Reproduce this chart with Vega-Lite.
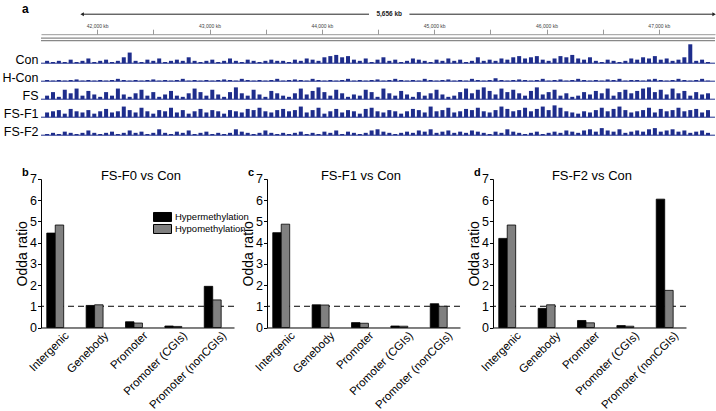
{
  "$schema": "https://vega.github.io/schema/vega-lite/v6.json",
  "padding": {"left": 1, "top": 3.2, "right": 0, "bottom": 0},
  "background": "white",
  "config": {
    "font": "Liberation Sans",
    "view": {"stroke": null},
    "axis": {"labelColor": "#000", "titleColor": "#000", "domainColor": "#000", "tickColor": "#000", "grid": false, "labelFont": "Liberation Sans", "titleFont": "Liberation Sans", "titleFontWeight": "normal"},
    "title": {"font": "Liberation Sans", "color": "#000"}
  },
  "datasets": {
    "tracks": [
      {"track": "Con",
       "pos": [41875,41925,41975,42025,42075,42125,42175,42225,42275,42325,42375,42425,42475,42525,42575,42625,42675,42725,42775,42825,42875,42925,42975,43025,43075,43125,43175,43225,43275,43325,43375,43425,43475,43525,43575,43625,43675,43725,43775,43825,43875,43925,43975,44025,44075,44125,44175,44225,44275,44325,44375,44425,44475,44525,44575,44625,44675,44725,44775,44825,44875,44925,44975,45025,45075,45125,45175,45225,45275,45325,45375,45425,45475,45525,45575,45625,45675,45725,45775,45825,45875,45925,45975,46025,46075,46125,46175,46225,46275,46325,46375,46425,46475,46525,46575,46625,46675,46725,46775,46825,46875,46925,46975,47025,47075,47125,47175,47225,47275,47325,47375,47425,47475],
       "v": [2,1,2,1,3,1,2,4,1,2, 3,1,2,5,9,2,1,3,2,4, 1,2,3,2,5,2,1,2,3,1, 2,4,2,1,3,2,1,2,3,2, 2,1,3,2,4,3,2,5,6,7, 5,6,3,2,4,1,3,5,2,3, 1,2,4,3,2,1,3,2,4,2, 3,1,2,5,2,3,2,4,3,5, 6,4,5,6,3,2,4,6,5,7, 4,3,5,2,1,3,2,1,2,4, 3,5,4,6,3,4,2,3,5,16, 2,3,1]},
      {"track": "H-Con",
       "pos": [41875,41925,41975,42025,42075,42125,42175,42225,42275,42325,42375,42425,42475,42525,42575,42625,42675,42725,42775,42825,42875,42925,42975,43025,43075,43125,43175,43225,43275,43325,43375,43425,43475,43525,43575,43625,43675,43725,43775,43825,43875,43925,43975,44025,44075,44125,44175,44225,44275,44325,44375,44425,44475,44525,44575,44625,44675,44725,44775,44825,44875,44925,44975,45025,45075,45125,45175,45225,45275,45325,45375,45425,45475,45525,45575,45625,45675,45725,45775,45825,45875,45925,45975,46025,46075,46125,46175,46225,46275,46325,46375,46425,46475,46525,46575,46625,46675,46725,46775,46825,46875,46925,46975,47025,47075,47125,47175,47225,47275,47325,47375,47425,47475],
       "v": [1,0.5,1,0.5,1,1.5,0.5,1,0.5,1, 0.5,1,2,1,0.5,1,0.5,1,1.5,0.5, 1,0.5,1,2,0.5,1,0.5,1,0.5,1, 1.5,1,0.5,2,1,0.5,1,0.5,1,2, 0.5,1,1.5,1,0.5,2,1,0.5,1,0.5, 1,2,0.5,1,0.5,1,1.5,0.5,1,2, 1,0.5,1,0.5,2,1,0.5,1,1.5,0.5, 1,0.5,2,1,0.5,1,2.5,1,0.5,1, 1.5,1,0.5,1,2,0.5,1,1.5,0.5,1, 2,1,0.5,1,0.5,1.5,1,2,0.5,1, 1,0.5,1.5,2,1,0.5,1,2,1,0.5, 1,2,0.5]},
      {"track": "FS",
       "pos": [41875,41925,41975,42025,42075,42125,42175,42225,42275,42325,42375,42425,42475,42525,42575,42625,42675,42725,42775,42825,42875,42925,42975,43025,43075,43125,43175,43225,43275,43325,43375,43425,43475,43525,43575,43625,43675,43725,43775,43825,43875,43925,43975,44025,44075,44125,44175,44225,44275,44325,44375,44425,44475,44525,44575,44625,44675,44725,44775,44825,44875,44925,44975,45025,45075,45125,45175,45225,45275,45325,45375,45425,45475,45525,45575,45625,45675,45725,45775,45825,45875,45925,45975,46025,46075,46125,46175,46225,46275,46325,46375,46425,46475,46525,46575,46625,46675,46725,46775,46825,46875,46925,46975,47025,47075,47125,47175,47225,47275,47325,47375,47425,47475],
       "v": [3,6,2,8,5,9,3,7,4,2, 6,3,9,4,2,5,8,3,6,2, 4,7,3,2,5,9,6,3,8,4, 2,6,10,5,3,8,4,2,7,5, 3,2,5,9,4,7,10,6,3,8, 5,2,4,3,8,6,2,9,5,3, 7,4,2,6,3,5,8,4,2,3, 6,9,5,8,10,7,4,9,6,8, 5,3,7,10,4,6,8,3,5,2, 3,6,4,7,5,9,3,6,8,5, 7,9,10,6,8,4,9,5,7,3, 6,4,5]},
      {"track": "FS-F1",
       "pos": [41875,41925,41975,42025,42075,42125,42175,42225,42275,42325,42375,42425,42475,42525,42575,42625,42675,42725,42775,42825,42875,42925,42975,43025,43075,43125,43175,43225,43275,43325,43375,43425,43475,43525,43575,43625,43675,43725,43775,43825,43875,43925,43975,44025,44075,44125,44175,44225,44275,44325,44375,44425,44475,44525,44575,44625,44675,44725,44775,44825,44875,44925,44975,45025,45075,45125,45175,45225,45275,45325,45375,45425,45475,45525,45575,45625,45675,45725,45775,45825,45875,45925,45975,46025,46075,46125,46175,46225,46275,46325,46375,46425,46475,46525,46575,46625,46675,46725,46775,46825,46875,46925,46975,47025,47075,47125,47175,47225,47275,47325,47375,47425,47475],
       "v": [4,5,6,3,7,5,4,6,3,5, 7,4,5,9,6,4,8,5,3,6, 5,8,4,6,3,5,7,4,6,5, 3,6,5,4,7,6,8,5,4,6, 7,5,6,9,4,6,8,3,5,7, 4,6,5,3,7,8,5,4,6,5, 3,5,7,6,4,9,5,6,8,4, 5,7,6,8,5,4,6,9,7,5, 6,8,5,7,9,6,10,8,5,4, 3,5,4,6,8,5,7,9,6,4, 5,6,8,4,7,5,6,8,5,6, 7,4,6]},
      {"track": "FS-F2",
       "pos": [41875,41925,41975,42025,42075,42125,42175,42225,42275,42325,42375,42425,42475,42525,42575,42625,42675,42725,42775,42825,42875,42925,42975,43025,43075,43125,43175,43225,43275,43325,43375,43425,43475,43525,43575,43625,43675,43725,43775,43825,43875,43925,43975,44025,44075,44125,44175,44225,44275,44325,44375,44425,44475,44525,44575,44625,44675,44725,44775,44825,44875,44925,44975,45025,45075,45125,45175,45225,45275,45325,45375,45425,45475,45525,45575,45625,45675,45725,45775,45825,45875,45925,45975,46025,46075,46125,46175,46225,46275,46325,46375,46425,46475,46525,46575,46625,46675,46725,46775,46825,46875,46925,46975,47025,47075,47125,47175,47225,47275,47325,47375,47425,47475],
       "v": [1,2,1,3,2,1,2,4,2,1, 2,3,1,2,4,2,3,1,2,5, 2,1,3,2,4,1,2,3,1,2, 1,2,5,3,2,1,2,4,2,1, 2,1,2,3,1,2,1,3,2,4, 1,3,2,1,2,4,5,3,2,1, 2,3,2,4,3,5,2,3,4,2, 3,2,4,3,2,1,3,2,5,3, 2,1,2,3,1,2,3,2,4,3, 2,4,5,3,6,4,3,5,2,3, 4,3,5,6,3,4,5,3,4,2, 3,4,2]}
    ],
    "bars": [
      {"panel": "b", "region": "Intergenic", "type": "Hypermethylation", "value": 4.45},
      {"panel": "b", "region": "Intergenic", "type": "Hypomethylation", "value": 4.83},
      {"panel": "b", "region": "Genebody", "type": "Hypermethylation", "value": 1.04},
      {"panel": "b", "region": "Genebody", "type": "Hypomethylation", "value": 1.07},
      {"panel": "b", "region": "Promoter", "type": "Hypermethylation", "value": 0.27},
      {"panel": "b", "region": "Promoter", "type": "Hypomethylation", "value": 0.21},
      {"panel": "b", "region": "Promoter (CGIs)", "type": "Hypermethylation", "value": 0.07},
      {"panel": "b", "region": "Promoter (CGIs)", "type": "Hypomethylation", "value": 0.05},
      {"panel": "b", "region": "Promoter (nonCGIs)", "type": "Hypermethylation", "value": 1.94},
      {"panel": "b", "region": "Promoter (nonCGIs)", "type": "Hypomethylation", "value": 1.3},
      {"panel": "c", "region": "Intergenic", "type": "Hypermethylation", "value": 4.47},
      {"panel": "c", "region": "Intergenic", "type": "Hypomethylation", "value": 4.87},
      {"panel": "c", "region": "Genebody", "type": "Hypermethylation", "value": 1.07},
      {"panel": "c", "region": "Genebody", "type": "Hypomethylation", "value": 1.06},
      {"panel": "c", "region": "Promoter", "type": "Hypermethylation", "value": 0.23},
      {"panel": "c", "region": "Promoter", "type": "Hypomethylation", "value": 0.2},
      {"panel": "c", "region": "Promoter (CGIs)", "type": "Hypermethylation", "value": 0.07},
      {"panel": "c", "region": "Promoter (CGIs)", "type": "Hypomethylation", "value": 0.06},
      {"panel": "c", "region": "Promoter (nonCGIs)", "type": "Hypermethylation", "value": 1.12},
      {"panel": "c", "region": "Promoter (nonCGIs)", "type": "Hypomethylation", "value": 1.0},
      {"panel": "d", "region": "Intergenic", "type": "Hypermethylation", "value": 4.2},
      {"panel": "d", "region": "Intergenic", "type": "Hypomethylation", "value": 4.83},
      {"panel": "d", "region": "Genebody", "type": "Hypermethylation", "value": 0.9},
      {"panel": "d", "region": "Genebody", "type": "Hypomethylation", "value": 1.07},
      {"panel": "d", "region": "Promoter", "type": "Hypermethylation", "value": 0.33},
      {"panel": "d", "region": "Promoter", "type": "Hypomethylation", "value": 0.22},
      {"panel": "d", "region": "Promoter (CGIs)", "type": "Hypermethylation", "value": 0.09},
      {"panel": "d", "region": "Promoter (CGIs)", "type": "Hypomethylation", "value": 0.06},
      {"panel": "d", "region": "Promoter (nonCGIs)", "type": "Hypermethylation", "value": 6.05},
      {"panel": "d", "region": "Promoter (nonCGIs)", "type": "Hypomethylation", "value": 1.75}
    ]
  },
  "spacing": 28.8,
  "vconcat": [
    {
      "bounds": "flush",
      "spacing": 5,
      "vconcat": [
        {
          "width": 674,
          "height": 35,
          "title": {"text": "a", "anchor": "start", "frame": "group", "dx": -19, "fontSize": 12, "fontWeight": "bold", "offset": -6},
          "data": {"values": [{"span": "5,656 kb"}]},
          "layer": [
            {"mark": {"type": "rule", "color": "#222", "strokeWidth": 1},
             "encoding": {
               "x": {"datum": 41866, "type": "quantitative", "scale": {"domain": [41866, 47492]},
                     "axis": {"orient": "top", "offset": -24, "values": [42000,42500,43000,43500,44000,44500,45000,45500,46000,46500,47000],
                              "labelExpr": "datum.value % 1000 == 0 ? format(datum.value, ',') + ' kb' : ''",
                              "labelFontSize": 5, "labelColor": "#444", "tickColor": "#999", "tickSize": 5, "domainColor": "#999", "domainWidth": 1,
                              "labelPadding": 1, "title": null, "labelFlush": false, "labelOverlap": false}},
               "x2": {"datum": 44420},
               "y": {"datum": 4, "type": "quantitative", "scale": {"domain": [0, 35], "reverse": true}, "axis": null}}},
            {"mark": {"type": "rule", "color": "#222", "strokeWidth": 1},
             "encoding": {"x": {"datum": 44780, "type": "quantitative"}, "x2": {"datum": 47492}, "y": {"datum": 4, "type": "quantitative", "axis": null}}},
            {"mark": {"type": "point", "shape": "triangle-left", "filled": true, "color": "#222", "size": 16, "opacity": 1},
             "encoding": {"x": {"datum": 41866, "type": "quantitative"}, "y": {"datum": 4, "type": "quantitative", "axis": null}}},
            {"mark": {"type": "point", "shape": "triangle-right", "filled": true, "color": "#222", "size": 16, "opacity": 1},
             "encoding": {"x": {"datum": 47492, "type": "quantitative"}, "y": {"datum": 4, "type": "quantitative", "axis": null}}},
            {"mark": {"type": "text", "fontSize": 6.5, "fontWeight": "bold", "color": "#222", "baseline": "middle"},
             "encoding": {"x": {"datum": 44600, "type": "quantitative"}, "y": {"datum": 4, "type": "quantitative", "axis": null}, "text": {"field": "span"}}},
            {"mark": {"type": "rule", "color": "#888", "strokeWidth": 1.3},
             "encoding": {"y": {"datum": 28, "type": "quantitative", "axis": null}}},
            {"mark": {"type": "rule", "color": "#888", "strokeWidth": 1.3},
             "encoding": {"y": {"datum": 30.5, "type": "quantitative", "axis": null}}}
          ]
        },
        {"width": 674, "height": 13,
         "layer": [
           {"data": {"values": [{}]}, "mark": {"type": "rule", "color": "#1e2d8c", "strokeWidth": 1}, "encoding": {"y": {"datum": 0, "type": "quantitative"}}},
           {"data": {"name": "tracks"}, "transform": [{"filter": "datum.track == 'Con'"}, {"flatten": ["pos", "v"]}],
            "mark": {"type": "bar", "color": "#1e2d8c", "width": 4},
            "encoding": {"x": {"field": "pos", "type": "quantitative", "scale": {"domain": [41866, 47492]}, "axis": null},
                         "y": {"field": "v", "type": "quantitative", "scale": {"domain": [0, 11]},
                               "axis": {"title": "Con", "titleAngle": 0, "titleAlign": "right", "titleBaseline": "alphabetic", "titleX": -3, "titleY": 13, "titleFontSize": 12.5, "labels": false, "ticks": false, "domain": false}}}}
         ]},
        {"width": 674, "height": 13,
         "layer": [
           {"data": {"values": [{}]}, "mark": {"type": "rule", "color": "#1e2d8c", "strokeWidth": 1}, "encoding": {"y": {"datum": 0, "type": "quantitative"}}},
           {"data": {"name": "tracks"}, "transform": [{"filter": "datum.track == 'H-Con'"}, {"flatten": ["pos", "v"]}],
            "mark": {"type": "bar", "color": "#1e2d8c", "width": 4},
            "encoding": {"x": {"field": "pos", "type": "quantitative", "scale": {"domain": [41866, 47492]}, "axis": null},
                         "y": {"field": "v", "type": "quantitative", "scale": {"domain": [0, 11]},
                               "axis": {"title": "H-Con", "titleAngle": 0, "titleAlign": "right", "titleBaseline": "alphabetic", "titleX": -3, "titleY": 13, "titleFontSize": 12.5, "labels": false, "ticks": false, "domain": false}}}}
         ]},
        {"width": 674, "height": 13,
         "layer": [
           {"data": {"values": [{}]}, "mark": {"type": "rule", "color": "#1e2d8c", "strokeWidth": 1}, "encoding": {"y": {"datum": 0, "type": "quantitative"}}},
           {"data": {"name": "tracks"}, "transform": [{"filter": "datum.track == 'FS'"}, {"flatten": ["pos", "v"]}],
            "mark": {"type": "bar", "color": "#1e2d8c", "width": 4},
            "encoding": {"x": {"field": "pos", "type": "quantitative", "scale": {"domain": [41866, 47492]}, "axis": null},
                         "y": {"field": "v", "type": "quantitative", "scale": {"domain": [0, 11]},
                               "axis": {"title": "FS", "titleAngle": 0, "titleAlign": "right", "titleBaseline": "alphabetic", "titleX": -3, "titleY": 13, "titleFontSize": 12.5, "labels": false, "ticks": false, "domain": false}}}}
         ]},
        {"width": 674, "height": 13,
         "layer": [
           {"data": {"values": [{}]}, "mark": {"type": "rule", "color": "#1e2d8c", "strokeWidth": 1}, "encoding": {"y": {"datum": 0, "type": "quantitative"}}},
           {"data": {"name": "tracks"}, "transform": [{"filter": "datum.track == 'FS-F1'"}, {"flatten": ["pos", "v"]}],
            "mark": {"type": "bar", "color": "#1e2d8c", "width": 4},
            "encoding": {"x": {"field": "pos", "type": "quantitative", "scale": {"domain": [41866, 47492]}, "axis": null},
                         "y": {"field": "v", "type": "quantitative", "scale": {"domain": [0, 11]},
                               "axis": {"title": "FS-F1", "titleAngle": 0, "titleAlign": "right", "titleBaseline": "alphabetic", "titleX": -3, "titleY": 13, "titleFontSize": 12.5, "labels": false, "ticks": false, "domain": false}}}}
         ]},
        {"width": 674, "height": 13,
         "layer": [
           {"data": {"values": [{}]}, "mark": {"type": "rule", "color": "#1e2d8c", "strokeWidth": 1}, "encoding": {"y": {"datum": 0, "type": "quantitative"}}},
           {"data": {"name": "tracks"}, "transform": [{"filter": "datum.track == 'FS-F2'"}, {"flatten": ["pos", "v"]}],
            "mark": {"type": "bar", "color": "#1e2d8c", "width": 4},
            "encoding": {"x": {"field": "pos", "type": "quantitative", "scale": {"domain": [41866, 47492]}, "axis": null},
                         "y": {"field": "v", "type": "quantitative", "scale": {"domain": [0, 11]},
                               "axis": {"title": "FS-F2", "titleAngle": 0, "titleAlign": "right", "titleBaseline": "alphabetic", "titleX": -3, "titleY": 13, "titleFontSize": 12.5, "labels": false, "ticks": false, "domain": false}}}}
         ]}
      ]
    },
    {
      "bounds": "flush",
      "spacing": 33,
      "resolve": {"legend": {"color": "independent"}},
      "hconcat": [
        {
          "width": 193, "height": 148.5,
          "title": {"text": "b", "anchor": "start", "frame": "group", "dx": -19, "fontSize": 11, "fontWeight": "bold", "offset": -8.2},
          "layer": [
            {"data": {"values": [{}]}, "mark": {"type": "rule", "strokeDash": [6, 4], "color": "#000", "strokeWidth": 1},
             "encoding": {"y": {"datum": 1, "type": "quantitative", "scale": {"domain": [0, 7]},
                                "axis": {"values": [0,1,2,3,4,5,6,7], "labelOverlap": false, "title": "Odda ratio", "titleFontSize": 14, "labelFontSize": 12.5, "tickSize": 3.5, "domainWidth": 1, "titlePadding": 0, "labelPadding": 1}}}},
            {"data": {"name": "bars"}, "transform": [{"filter": "datum.panel == 'b'"}],
             "mark": {"type": "bar", "stroke": "#000", "strokeWidth": 0.8},
             "encoding": {
               "x": {"field": "region", "type": "nominal",
                     "scale": {"domain": ["Intergenic", "Genebody", "Promoter", "Promoter (CGIs)", "Promoter (nonCGIs)"], "paddingInner": 0.57, "paddingOuter": 0.236, "align": 0.31},
                     "axis": {"title": null, "labelAngle": -45, "labelFontSize": 11.5, "ticks": false, "labelPadding": 2, "labelOffset": 8, "domainWidth": 1}},
               "xOffset": {"field": "type", "type": "nominal", "scale": {"domain": ["Hypermethylation", "Hypomethylation"]}},
               "y": {"field": "value", "type": "quantitative", "scale": {"domain": [0, 7]},
                     "axis": {"values": [0,1,2,3,4,5,6,7], "labelOverlap": false, "title": "Odda ratio", "titleFontSize": 14, "labelFontSize": 12.5, "tickSize": 3.5, "domainWidth": 1, "titlePadding": 0, "labelPadding": 1}},
               "color": {"field": "type", "type": "nominal", "scale": {"domain": ["Hypermethylation", "Hypomethylation"], "range": ["#000000", "#808080"]},
                         "legend": {"title": null, "orient": "none", "legendX": 116.5, "legendY": 33, "symbolType": "M-2,-1H2V1H-2Z", "symbolSize": 81,
                                    "symbolStrokeColor": "#000", "symbolStrokeWidth": 1, "symbolOpacity": 1, "labelFontSize": 9.5, "labelOffset": 7.5, "rowPadding": -2, "padding": 0, "labelColor": "#000"}}}},
            {"data": {"values": [{"region": "Promoter", "label": "FS-F0 vs Con"}]}, "mark": {"type": "text", "fontSize": 13, "dy": -3, "dx": 7},
             "encoding": {"x": {"field": "region", "type": "nominal",
                                "axis": {"title": null, "labelAngle": -45, "labelFontSize": 11.5, "ticks": false, "labelPadding": 2, "labelOffset": 8, "domainWidth": 1}},
                          "y": {"datum": 7, "type": "quantitative",
                                "axis": {"values": [0,1,2,3,4,5,6,7], "labelOverlap": false, "title": "Odda ratio", "titleFontSize": 14, "labelFontSize": 12.5, "tickSize": 3.5, "domainWidth": 1, "titlePadding": 0, "labelPadding": 1}},
                          "text": {"field": "label"}}}
          ]
        },
        {
          "width": 193, "height": 148.5,
          "title": {"text": "c", "anchor": "start", "frame": "group", "dx": -19, "fontSize": 11, "fontWeight": "bold", "offset": -8.2},
          "layer": [
            {"data": {"values": [{}]}, "mark": {"type": "rule", "strokeDash": [6, 4], "color": "#000", "strokeWidth": 1},
             "encoding": {"y": {"datum": 1, "type": "quantitative", "scale": {"domain": [0, 7]},
                                "axis": {"values": [0,1,2,3,4,5,6,7], "labelOverlap": false, "title": "Odda ratio", "titleFontSize": 14, "labelFontSize": 12.5, "tickSize": 3.5, "domainWidth": 1, "titlePadding": 0, "labelPadding": 1}}}},
            {"data": {"name": "bars"}, "transform": [{"filter": "datum.panel == 'c'"}],
             "mark": {"type": "bar", "stroke": "#000", "strokeWidth": 0.8},
             "encoding": {
               "x": {"field": "region", "type": "nominal",
                     "scale": {"domain": ["Intergenic", "Genebody", "Promoter", "Promoter (CGIs)", "Promoter (nonCGIs)"], "paddingInner": 0.57, "paddingOuter": 0.236, "align": 0.31},
                     "axis": {"title": null, "labelAngle": -45, "labelFontSize": 11.5, "ticks": false, "labelPadding": 2, "labelOffset": 8, "domainWidth": 1}},
               "xOffset": {"field": "type", "type": "nominal", "scale": {"domain": ["Hypermethylation", "Hypomethylation"]}},
               "y": {"field": "value", "type": "quantitative", "scale": {"domain": [0, 7]},
                     "axis": {"values": [0,1,2,3,4,5,6,7], "labelOverlap": false, "title": "Odda ratio", "titleFontSize": 14, "labelFontSize": 12.5, "tickSize": 3.5, "domainWidth": 1, "titlePadding": 0, "labelPadding": 1}},
               "color": {"field": "type", "type": "nominal", "scale": {"domain": ["Hypermethylation", "Hypomethylation"], "range": ["#000000", "#808080"]}, "legend": null}}},
            {"data": {"values": [{"region": "Promoter", "label": "FS-F1 vs Con"}]}, "mark": {"type": "text", "fontSize": 13, "dy": -3, "dx": 1},
             "encoding": {"x": {"field": "region", "type": "nominal",
                                "axis": {"title": null, "labelAngle": -45, "labelFontSize": 11.5, "ticks": false, "labelPadding": 2, "labelOffset": 8, "domainWidth": 1}},
                          "y": {"datum": 7, "type": "quantitative",
                                "axis": {"values": [0,1,2,3,4,5,6,7], "labelOverlap": false, "title": "Odda ratio", "titleFontSize": 14, "labelFontSize": 12.5, "tickSize": 3.5, "domainWidth": 1, "titlePadding": 0, "labelPadding": 1}},
                          "text": {"field": "label"}}}
          ]
        },
        {
          "width": 193, "height": 148.5,
          "title": {"text": "d", "anchor": "start", "frame": "group", "dx": -19, "fontSize": 11, "fontWeight": "bold", "offset": -8.2},
          "layer": [
            {"data": {"values": [{}]}, "mark": {"type": "rule", "strokeDash": [6, 4], "color": "#000", "strokeWidth": 1},
             "encoding": {"y": {"datum": 1, "type": "quantitative", "scale": {"domain": [0, 7]},
                                "axis": {"values": [0,1,2,3,4,5,6,7], "labelOverlap": false, "title": "Odda ratio", "titleFontSize": 14, "labelFontSize": 12.5, "tickSize": 3.5, "domainWidth": 1, "titlePadding": 0, "labelPadding": 1}}}},
            {"data": {"name": "bars"}, "transform": [{"filter": "datum.panel == 'd'"}],
             "mark": {"type": "bar", "stroke": "#000", "strokeWidth": 0.8},
             "encoding": {
               "x": {"field": "region", "type": "nominal",
                     "scale": {"domain": ["Intergenic", "Genebody", "Promoter", "Promoter (CGIs)", "Promoter (nonCGIs)"], "paddingInner": 0.57, "paddingOuter": 0.236, "align": 0.31},
                     "axis": {"title": null, "labelAngle": -45, "labelFontSize": 11.5, "ticks": false, "labelPadding": 2, "labelOffset": 8, "domainWidth": 1}},
               "xOffset": {"field": "type", "type": "nominal", "scale": {"domain": ["Hypermethylation", "Hypomethylation"]}},
               "y": {"field": "value", "type": "quantitative", "scale": {"domain": [0, 7]},
                     "axis": {"values": [0,1,2,3,4,5,6,7], "labelOverlap": false, "title": "Odda ratio", "titleFontSize": 14, "labelFontSize": 12.5, "tickSize": 3.5, "domainWidth": 1, "titlePadding": 0, "labelPadding": 1}},
               "color": {"field": "type", "type": "nominal", "scale": {"domain": ["Hypermethylation", "Hypomethylation"], "range": ["#000000", "#808080"]}, "legend": null}}},
            {"data": {"values": [{"region": "Promoter", "label": "FS-F2 vs Con"}]}, "mark": {"type": "text", "fontSize": 13, "dy": -3, "dx": 6},
             "encoding": {"x": {"field": "region", "type": "nominal",
                                "axis": {"title": null, "labelAngle": -45, "labelFontSize": 11.5, "ticks": false, "labelPadding": 2, "labelOffset": 8, "domainWidth": 1}},
                          "y": {"datum": 7, "type": "quantitative",
                                "axis": {"values": [0,1,2,3,4,5,6,7], "labelOverlap": false, "title": "Odda ratio", "titleFontSize": 14, "labelFontSize": 12.5, "tickSize": 3.5, "domainWidth": 1, "titlePadding": 0, "labelPadding": 1}},
                          "text": {"field": "label"}}}
          ]
        }
      ]
    }
  ]
}
